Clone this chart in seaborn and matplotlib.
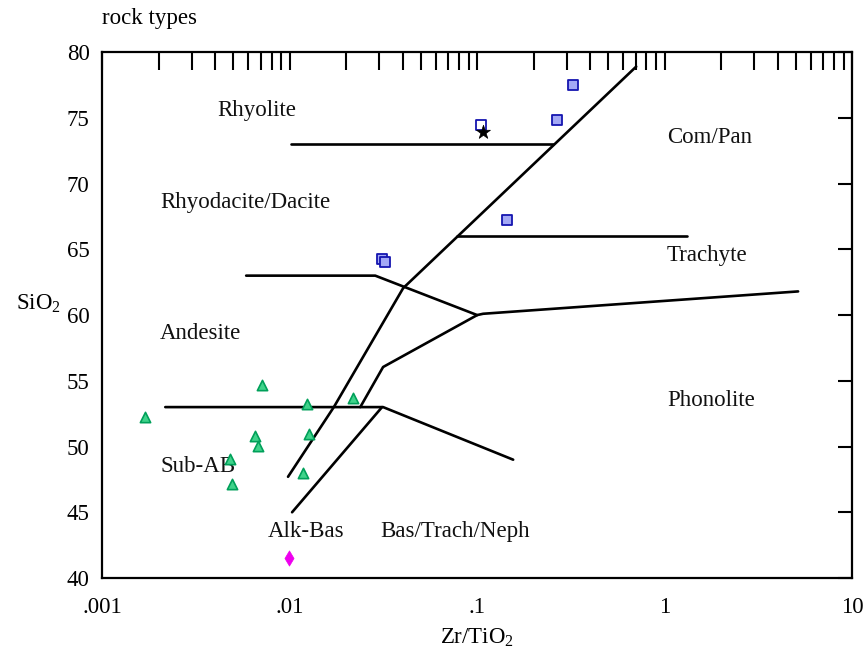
import numpy as np
import pandas as pd
import matplotlib
matplotlib.use("Agg")
import matplotlib.pyplot as plt
import matplotlib.ticker as mticker
import seaborn as sns

# ---- data ----
sq_x = [0.267, 0.325, 0.1445, 0.0311, 0.0323]
sq_y = [74.83, 77.49, 67.22, 64.26, 64.03]
sq_open_x = [0.105]
sq_open_y = [74.45]
star_x = [0.1076]
star_y = [73.92]
tri_x = [0.00169, 0.00713, 0.01238, 0.0218, 0.00655, 0.00679, 0.0127, 0.00482, 0.00494, 0.0118]
tri_y = [52.24, 54.68, 53.23, 53.69, 50.80, 50.04, 50.95, 49.05, 47.15, 47.98]
dia_x = [0.00993]
dia_y = [41.52]

# field boundaries (Zr/TiO2, SiO2)
b1_x = [0.0102, 0.254];              b1_y = [73, 73]
b2_x = [0.0098, 0.0172, 0.0403, 0.705]; b2_y = [47.7, 53, 62.05, 78.9]
b3_x = [0.00586, 0.0286, 0.1, 0.1076, 5.15]; b3_y = [63, 63, 60, 60.1, 61.8]
b4_x = [0.0238, 0.0315, 0.1];        b4_y = [53, 56.05, 60]
b5_x = [0.0782, 1.318];              b5_y = [66, 66]
b6_x = [0.00217, 0.0315, 0.1556];    b6_y = [53, 53, 49]
b7_x = [0.0103, 0.0311];             b7_y = [45, 53]
boundaries = [(b1_x, b1_y), (b2_x, b2_y), (b3_x, b3_y), (b4_x, b4_y),
              (b5_x, b5_y), (b6_x, b6_y), (b7_x, b7_y)]

field_names = ["Rhyolite", "Com/Pan", "Rhyodacite/Dacite", "Trachyte", "Andesite",
               "Phonolite", "Sub-AB", "Alk-Bas", "Bas/Trach/Neph"]
field_x = [0.0041, 1.03, 0.00204, 1.03, 0.00204, 1.03, 0.00204, 0.00767, 0.0304]
field_y = [75.6, 73.5, 68.6, 64.55, 58.6, 53.5, 48.5, 43.55, 43.55]

xtick_vals = [0.001, 0.01, 0.1, 1, 10]
xtick_labels = [".001", ".01", ".1", "1", "10"]
ytick_vals = [40, 45, 50, 55, 60, 65, 70, 75, 80]

# ---- plot ----
sns.set_theme(style="white")
plt.rcParams["font.family"] = ["Liberation Serif", "DejaVu Serif"]
plt.rcParams["mathtext.fontset"] = "custom"
plt.rcParams["mathtext.rm"] = "Liberation Serif"
plt.rcParams["mathtext.it"] = "Liberation Serif"

fig = plt.figure(figsize=(8.66, 6.52), dpi=100)
ax = fig.add_axes([0.118, 0.1135, 0.866, 0.8065])

for bx, by in boundaries:
    sns.lineplot(x=bx, y=by, ax=ax, sort=False, estimator=None,
                 color="black", linewidth=1.9)

sns.scatterplot(x=tri_x, y=tri_y, ax=ax, marker="^", s=55,
                color="#3fd38a", edgecolor="#00a05a", linewidth=1.2, zorder=5)
sns.scatterplot(x=sq_x, y=sq_y, ax=ax, marker="s", s=55,
                color="#a3a8f5", edgecolor="#1515b0", linewidth=1.3, zorder=5)
sns.scatterplot(x=sq_open_x, y=sq_open_y, ax=ax, marker="s", s=55,
                color="white", edgecolor="#1515b0", linewidth=1.3, zorder=5)
sns.scatterplot(x=star_x, y=star_y, ax=ax, marker="*", s=110,
                color="black", edgecolor="black", linewidth=0.5, zorder=6)
sns.scatterplot(x=dia_x, y=dia_y, ax=ax, marker="d", s=60,
                color="#ee00ee", edgecolor="#ee00ee", linewidth=0.5, zorder=6)

for name, tx, ty in zip(field_names, field_x, field_y):
    ax.text(tx, ty, name, fontsize=16.5, ha="left", va="center", color="#111111")

ax.set_xscale("log")
ax.set_xlim(0.001, 10)
ax.set_ylim(40, 80)
ax.xaxis.set_major_locator(mticker.FixedLocator(xtick_vals))
ax.xaxis.set_major_formatter(mticker.FixedFormatter(xtick_labels))
ax.xaxis.set_minor_locator(mticker.LogLocator(base=10, subs=np.arange(2, 10), numticks=20))
ax.xaxis.set_minor_formatter(mticker.NullFormatter())
ax.yaxis.set_major_locator(mticker.FixedLocator(ytick_vals))

ax.tick_params(axis="both", which="both", direction="in", top=True, right=True,
               labelsize=16.5, colors="black", width=1.5)
ax.tick_params(axis="x", which="both", length=13, pad=14)
ax.tick_params(axis="y", which="major", length=10, pad=9)

for sp in ax.spines.values():
    sp.set_color("black")
    sp.set_linewidth(1.6)

ax.set_xlabel("Zr/TiO$_2$", fontsize=16.5, color="black", labelpad=6)
ax.set_ylabel("SiO$_2$", fontsize=16.5, color="black", rotation=0, labelpad=8)
ax.yaxis.set_label_coords(-0.085, 0.5)

fig.text(0.118, 0.972, "rock types", fontsize=16.5, ha="left", va="center", color="black")

fig.savefig("out.png", dpi=100, facecolor="white")
